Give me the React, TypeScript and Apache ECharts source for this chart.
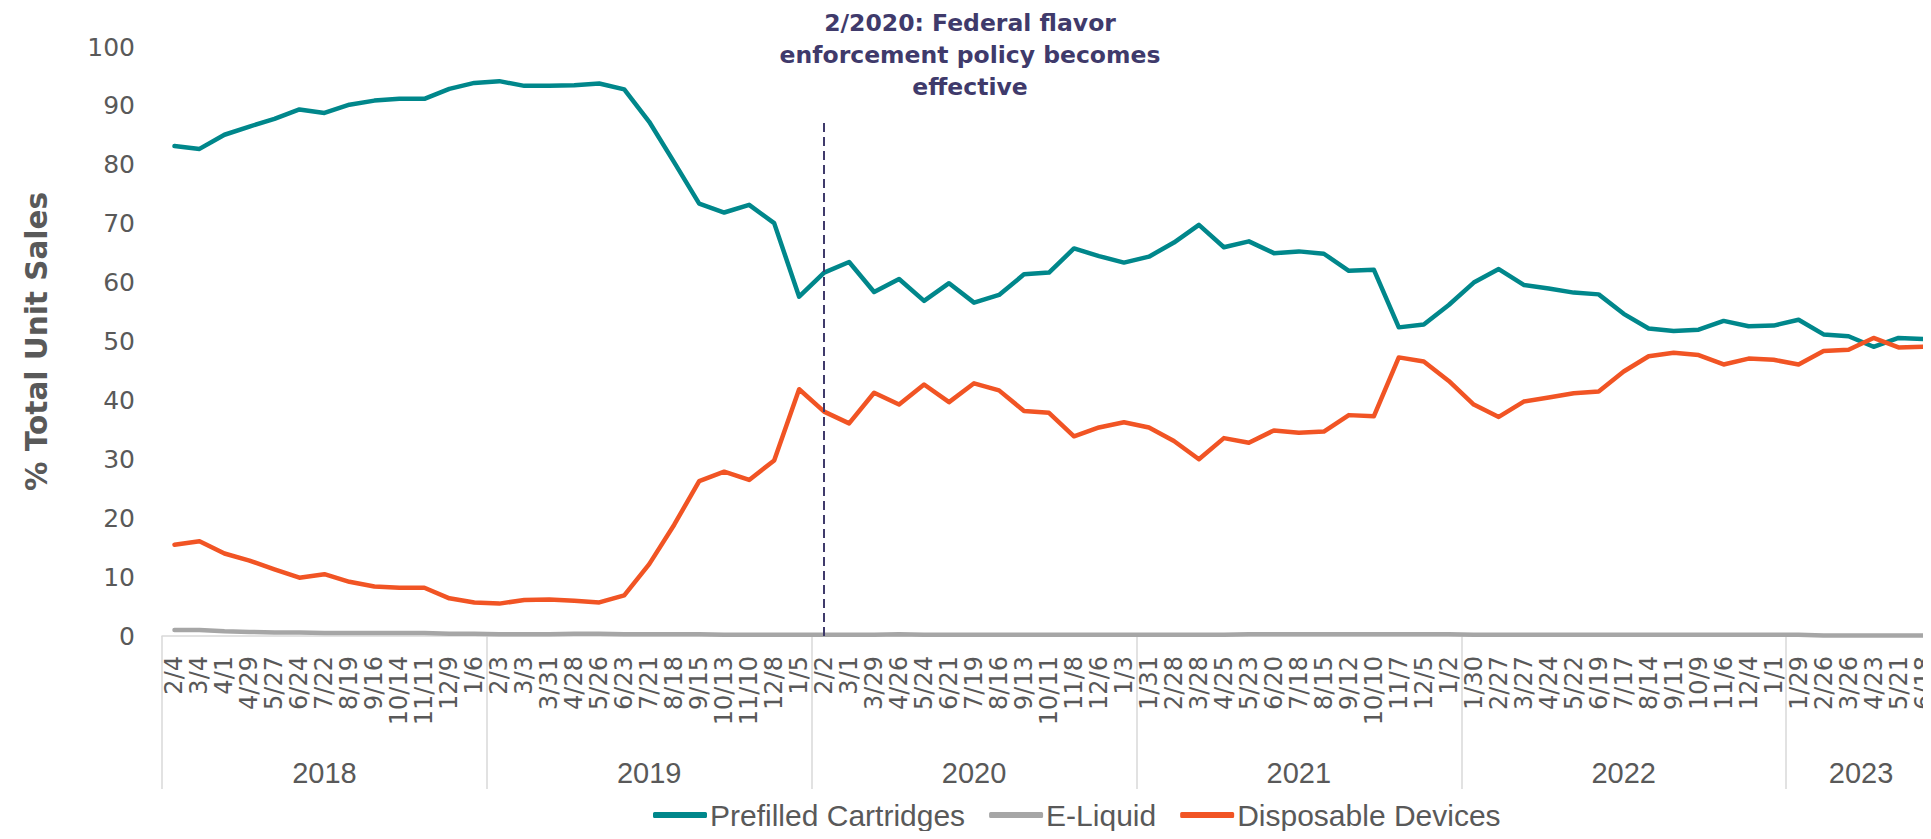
import React, { useEffect, useRef } from "react";
import * as echarts from "echarts";

const dates = [
  "2/4", "3/4", "4/1", "4/29", "5/27", "6/24", "7/22", "8/19", "9/16", "10/14", "11/11", "12/9", "1/6",
  "2/3", "3/3", "3/31", "4/28", "5/26", "6/23", "7/21", "8/18", "9/15", "10/13", "11/10", "12/8", "1/5",
  "2/2", "3/1", "3/29", "4/26", "5/24", "6/21", "7/19", "8/16", "9/13", "10/11", "11/8", "12/6", "1/3",
  "1/31", "2/28", "3/28", "4/25", "5/23", "6/20", "7/18", "8/15", "9/12", "10/10", "11/7", "12/5", "1/2",
  "1/30", "2/27", "3/27", "4/24", "5/22", "6/19", "7/17", "8/14", "9/11", "10/9", "11/6", "12/4", "1/1",
  "1/29", "2/26", "3/26", "4/23", "5/21", "6/18",
];

const years = ["2018", "2019", "2020", "2021", "2022", "2023"];
const yearSizes = [13, 13, 13, 13, 13, 6];

const prefilledCartridges = [
  83.2, 82.7, 85.1, 86.5, 87.8, 89.4, 88.8, 90.2, 90.9, 91.2,
  91.2, 92.9, 93.9, 94.2, 93.4, 93.4, 93.5, 93.8, 92.8, 87.3,
  80.4, 73.4, 71.9, 73.2, 70.1, 57.6, 61.7, 63.5, 58.4, 60.6,
  56.9, 59.9, 56.6, 57.9, 61.4, 61.7, 65.8, 64.5, 63.4, 64.4,
  66.8, 69.8, 66.0, 67.0, 65.0, 65.3, 64.9, 62.0, 62.2, 52.4,
  52.9, 56.2, 60.0, 62.3, 59.6, 59.0, 58.3, 58.0, 54.7, 52.2,
  51.8, 52.0, 53.5, 52.6, 52.7, 53.7, 51.2, 50.9, 49.1, 50.6,
  50.4,
];

const eLiquid = [
  1.0, 1.0, 0.8, 0.7, 0.6, 0.6, 0.5, 0.5, 0.5, 0.5,
  0.5, 0.4, 0.4, 0.3, 0.3, 0.3, 0.4, 0.4, 0.3, 0.3,
  0.3, 0.3, 0.2, 0.2, 0.2, 0.2, 0.2, 0.2, 0.2, 0.3,
  0.2, 0.2, 0.2, 0.2, 0.2, 0.2, 0.2, 0.2, 0.2, 0.2,
  0.2, 0.2, 0.2, 0.3, 0.3, 0.3, 0.3, 0.3, 0.3, 0.3,
  0.3, 0.3, 0.2, 0.2, 0.2, 0.2, 0.2, 0.2, 0.2, 0.2,
  0.2, 0.2, 0.2, 0.2, 0.2, 0.2, 0.1, 0.1, 0.1, 0.1,
  0.1,
];

const disposableDevices = [
  15.5, 16.1, 14.0, 12.8, 11.3, 9.9, 10.5, 9.2, 8.4, 8.2,
  8.2, 6.4, 5.7, 5.5, 6.1, 6.2, 6.0, 5.7, 6.9, 12.2,
  18.9, 26.3, 27.9, 26.5, 29.8, 41.9, 38.1, 36.1, 41.3, 39.3,
  42.7, 39.7, 42.9, 41.7, 38.2, 37.9, 33.9, 35.4, 36.3, 35.4,
  33.1, 30.0, 33.6, 32.8, 34.9, 34.5, 34.7, 37.5, 37.3, 47.3,
  46.6, 43.3, 39.3, 37.2, 39.8, 40.5, 41.2, 41.5, 44.9, 47.5,
  48.1, 47.7, 46.1, 47.1, 46.9, 46.1, 48.4, 48.6, 50.6, 49.0,
  49.1,
];

const yTicks = { min: 0, max: 100, interval: 10 };
const policyIndex = 26;
const policyLineTop = 87.6;
const annotation = "2/2020: Federal flavor\nenforcement policy becomes\neffective";

export default function App() {
  const ref = useRef<HTMLDivElement>(null);

  useEffect(() => {
    if (!ref.current) return;
    const chart = echarts.init(ref.current, null, { renderer: "svg" });

    const boundaries: number[] = [];
    const centers: number[] = [];
    let acc = 0;
    yearSizes.forEach((n) => {
      boundaries.push(acc);
      centers.push(acc + n / 2);
      acc += n;
    });
    const total = dates.length;

    const gray = "#595959";
    const lineCommon = { width: 4.5, cap: "round", join: "round" };

    chart.setOption({
      animation: false,
      backgroundColor: "#ffffff",
      grid: {
        left: 154,
        right: -5,
        top: 39,
        bottom: 195,
        containLabel: false,
        outerBoundsMode: "none",
      },
      legend: {
        left: 640,
        top: 785,
        icon: "roundRect",
        itemWidth: 54,
        itemHeight: 6,
        itemGap: 24,
        textStyle: {
          color: gray,
          fontFamily: "Liberation Sans",
          fontSize: 30,
          lineHeight: 34,
          padding: [0, 0, 0, -2],
        },
        data: ["Prefilled Cartridges", "E-Liquid", "Disposable Devices"],
      },
      xAxis: [
        {
          type: "category",
          data: dates,
          boundaryGap: true,
          axisLine: { show: true, lineStyle: { color: "#d9d9d9", width: 1.5 } },
          axisTick: { show: false },
          axisLabel: {
            interval: 0,
            rotate: 90,
            margin: 20,
            color: gray,
            fontFamily: "DejaVu Sans",
            fontSize: 24,
          },
          splitLine: { show: false },
        },
        {
          type: "value",
          min: 0,
          max: total,
          position: "bottom",
          axisLine: { show: false },
          axisTick: {
            show: true,
            length: 153,
            customValues: boundaries,
            lineStyle: { color: "#d9d9d9", width: 1.5 },
          },
          axisLabel: {
            show: true,
            customValues: centers,
            margin: 122,
            color: gray,
            fontFamily: "Liberation Sans",
            fontSize: 29,
            formatter: (v: number) => {
              const i = centers.findIndex((c) => Math.abs(c - v) < 1e-6);
              return i >= 0 ? years[i] : "";
            },
          },
          splitLine: { show: false },
        },
      ],
      yAxis: {
        type: "value",
        min: yTicks.min,
        max: yTicks.max,
        interval: yTicks.interval,
        name: "% Total Unit Sales",
        nameLocation: "middle",
        nameGap: 110,
        nameTextStyle: {
          color: gray,
          fontFamily: "DejaVu Sans",
          fontWeight: "bold",
          fontSize: 29.5,
        },
        axisLine: { show: false },
        axisTick: { show: false },
        splitLine: { show: false },
        axisLabel: {
          margin: 27,
          color: gray,
          fontFamily: "DejaVu Sans",
          fontSize: 25,
        },
      },
      series: [
        {
          name: "Prefilled Cartridges",
          type: "line",
          data: prefilledCartridges,
          showSymbol: false,
          color: "#00878B",
          lineStyle: { ...lineCommon, color: "#00878B" },
          markLine: {
            silent: true,
            symbol: ["none", "none"],
            label: { show: false },
            lineStyle: { color: "#3f3a6b", width: 2, type: [9, 5] },
            data: [[{ coord: [dates[policyIndex], 0] }, { coord: [dates[policyIndex], policyLineTop] }]],
          },
        },
        {
          name: "E-Liquid",
          type: "line",
          data: eLiquid,
          showSymbol: false,
          color: "#a6a6a6",
          lineStyle: { ...lineCommon, color: "#a6a6a6" },
        },
        {
          name: "Disposable Devices",
          type: "line",
          data: disposableDevices,
          showSymbol: false,
          color: "#F15424",
          lineStyle: { ...lineCommon, color: "#F15424" },
        },
      ],
      graphic: [
        {
          type: "text",
          x: 962,
          y: 47,
          style: {
            text: annotation,
            fill: "#3f3a6b",
            font: 'bold 23.5px "DejaVu Sans"',
            align: "center",
            verticalAlign: "middle",
            lineHeight: 32,
          },
        },
      ],
    });

    return () => chart.dispose();
  }, []);

  return <div ref={ref} style={{ width: 1923, height: 823 }} />;
}
